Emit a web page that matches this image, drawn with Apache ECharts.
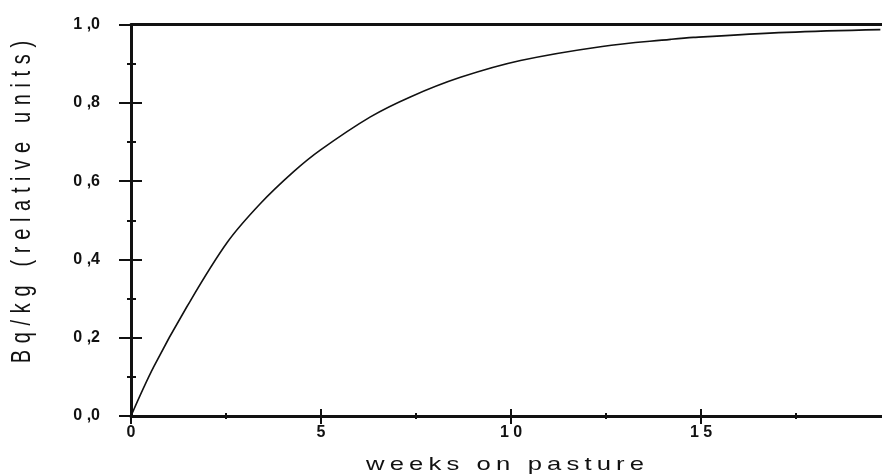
<!DOCTYPE html>
<html>
<head>
<meta charset="utf-8">
<script src="https://cdn.jsdelivr.net/npm/echarts@6/dist/echarts.min.js"></script>
<style>
  html, body { margin: 0; padding: 0; background: #fff; }
  #chart { width: 882px; height: 476px; }
</style>
</head>
<body>
<div id="chart"></div>
<script>
// weeks on pasture
var weeks = [0, 0.6, 1.47, 2.53, 3.4, 4.28, 4.98, 6.3, 7.35, 8.67, 10.25, 12.4, 14.2, 14.8, 17.26, 19.72];
// Bq/kg, relative units
var activity = [0, 0.126, 0.279, 0.443, 0.542, 0.624, 0.679, 0.764, 0.815, 0.865, 0.908, 0.944, 0.962, 0.967, 0.98, 0.987];
var xTicks = [0, 5, 10, 15];
var yTicks = [0, 0.2, 0.4, 0.6, 0.8, 1.0];

// the print spaces its letters out
function spaced(s, gap) {
    return s.split(' ').map(function (w) { return w.split('').join(gap); }).join(gap + ' ' + gap);
}
var xTitle = spaced('weeks on pasture', '\u2009');
var yTitle = spaced('Bq/kg (relative units)', '\u2004');

var myChart = echarts.init(document.getElementById('chart'));

var pts = [];
for (var i = 0; i < weeks.length; i++) {
    pts.push([weeks[i], activity[i]]);
}

var ink = '#111';
var labelFont = { color: ink, fontFamily: 'Liberation Sans', fontWeight: 'bold', fontSize: 16 };

function xLabel(v) {
    // only 0,5,10,15 get a label
    if (xTicks.indexOf(v) < 0) return '';
    return String(v).split('').join(' ');
}
function yLabel(v) {
    var found = false;
    for (var i = 0; i < yTicks.length; i++) {
        if (Math.abs(yTicks[i] - v) < 1e-6) found = true;
    }
    if (!found) return '';
    return v.toFixed(1).replace('.', ' ,');
}

var option = {
    animation: false,
    backgroundColor: '#fff',
    // x runs to 20, a little past the right edge of the picture
    grid: { left: 131, width: 760, top: 24.5, bottom: 60, containLabel: false, outerBoundsMode: 'none' },
    xAxis: [{
        type: 'value', min: 0, max: 20, interval: 5, position: 'bottom',
        axisLine: { show: true, onZero: false, lineStyle: { color: ink, width: 3 } },
        axisTick: { show: true, inside: false, length: 8, lineStyle: { color: ink, width: 2 } },
        minorTick: { show: true, splitNumber: 2, length: 3, lineStyle: { color: ink, width: 2 } },
        splitLine: { show: false },
        axisLabel: Object.assign({ margin: 9, formatter: xLabel }, labelFont)
    }, {
        // inward half of the ticks
        type: 'value', min: 0, max: 20, interval: 5, position: 'bottom',
        axisLine: { show: false },
        axisTick: { show: true, inside: true, length: 7, lineStyle: { color: ink, width: 2 } },
        minorTick: { show: true, splitNumber: 2, length: 3, lineStyle: { color: ink, width: 2 } },
        splitLine: { show: false },
        axisLabel: { show: false }
    }, {
        // the line along 1,0
        type: 'value', min: 0, max: 20, position: 'top',
        axisLine: { show: true, onZero: false, lineStyle: { color: ink, width: 3 } },
        axisTick: { show: false },
        splitLine: { show: false },
        axisLabel: { show: false }
    }],
    yAxis: [{
        type: 'value', min: 0, max: 1, interval: 0.2, position: 'left',
        axisLine: { show: true, onZero: false, lineStyle: { color: ink, width: 3 } },
        axisTick: { show: true, inside: false, length: 12, lineStyle: { color: ink, width: 2 } },
        minorTick: { show: true, splitNumber: 2, length: 4, lineStyle: { color: ink, width: 2 } },
        splitLine: { show: false },
        axisLabel: Object.assign({ margin: 31, formatter: yLabel }, labelFont)
    }, {
        type: 'value', min: 0, max: 1, interval: 0.2, position: 'left',
        axisLine: { show: false },
        axisTick: { show: true, inside: true, length: 11, lineStyle: { color: ink, width: 2 } },
        minorTick: { show: true, splitNumber: 2, length: 5, lineStyle: { color: ink, width: 2 } },
        splitLine: { show: false },
        axisLabel: { show: false }
    }],
    graphic: [{
        // axis titles: glyphs in the scan are wider than tall, so stretch them sideways
        type: 'text',
        x: 505, y: 465,
        scaleX: 1.35,
        style: {
            text: xTitle,
            fill: ink,
            font: '19px "Liberation Sans"',
            textAlign: 'center',
            textVerticalAlign: 'middle'
        }
    }, {
        type: 'text',
        x: 23, y: 202,
        rotation: Math.PI / 2,
        scaleY: 1.35,
        style: {
            text: yTitle,
            fill: ink,
            font: '20px "Liberation Sans"',
            textAlign: 'center',
            textVerticalAlign: 'middle'
        }
    }],
    series: [{
        type: 'line',
        data: pts,
        xAxisIndex: 0,
        yAxisIndex: 0,
        smooth: 0.35,
        showSymbol: false,
        lineStyle: { color: ink, width: 1.6 }
    }]
};

myChart.setOption(option);
</script>
</body>
</html>
